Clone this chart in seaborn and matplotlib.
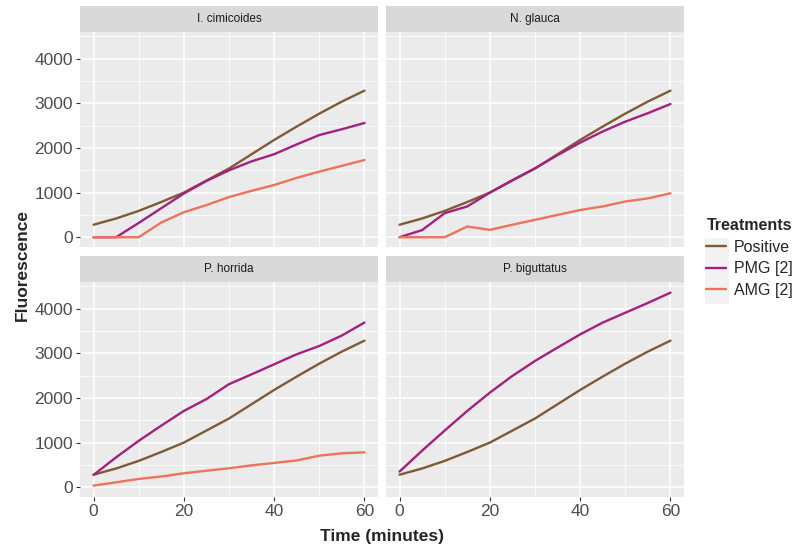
import matplotlib
matplotlib.use("Agg")
import matplotlib.pyplot as plt
import numpy as np
import pandas as pd
import seaborn as sns
from matplotlib.lines import Line2D
from matplotlib.patches import Rectangle
from matplotlib.ticker import MultipleLocator

# --- data (every 5 minutes) ---
time_min = [0, 5, 10, 15, 20, 25, 30, 35, 40, 45, 50, 55, 60]
species = ["I. cimicoides", "N. glauca", "P. horrida", "P. biguttatus"]
treatments = ["Positive", "PMG [2]", "AMG [2]"]

positive = [280, 420, 590, 790, 1000, 1270, 1540, 1860, 2180, 2480, 2770, 3040, 3285]

cimi_pmg = [0, 0, 320, 650, 980, 1260, 1500, 1700, 1860, 2080, 2290, 2420, 2560]
cimi_amg = [0, 0, 0, 330, 560, 720, 900, 1040, 1170, 1330, 1470, 1600, 1730]

glauca_pmg = [0, 160, 540, 690, 1000, 1280, 1545, 1840, 2120, 2370, 2590, 2780, 2985]
glauca_amg = [0, 0, 0, 240, 165, 280, 390, 500, 610, 690, 800, 870, 985]

horrida_pmg = [276, 670, 1040, 1380, 1710, 1975, 2310, 2530, 2755, 2980, 3165, 3400, 3690]
horrida_amg = [37, 110, 186, 240, 313, 370, 425, 490, 544, 600, 708, 760, 782]

bigut_pmg = [350, 820, 1270, 1710, 2120, 2495, 2830, 3130, 3425, 3690, 3910, 4130, 4360]

series = {
    "I. cimicoides": {"Positive": positive, "PMG [2]": cimi_pmg, "AMG [2]": cimi_amg},
    "N. glauca": {"Positive": positive, "PMG [2]": glauca_pmg, "AMG [2]": glauca_amg},
    "P. horrida": {"Positive": positive, "PMG [2]": horrida_pmg, "AMG [2]": horrida_amg},
    "P. biguttatus": {"Positive": positive, "PMG [2]": bigut_pmg},
}

rows = []
for sp, d in series.items():
    for tr, vals in d.items():
        for t, v in zip(time_min, vals):
            rows.append({"species": sp, "treatment": tr, "time": t, "value": v})
df = pd.DataFrame(rows)

palette = {"Positive": "#7f5a36", "PMG [2]": "#a3207f", "AMG [2]": "#ec735c"}

sns.set_theme(style="darkgrid")
plt.rcParams["font.family"] = ["Liberation Sans", "DejaVu Sans"]

W, H = 798, 551
fig = plt.figure(figsize=(W / 100, H / 100), dpi=100)


def px_axes(x0, y0, x1, y1):
    return fig.add_axes([x0 / W, 1 - y1 / H, (x1 - x0) / W, (y1 - y0) / H])


panel_box = [
    (80, 32, 378, 247),
    (386, 32, 684, 247),
    (80, 282, 378, 497),
    (386, 282, 684, 497),
]
strip_h = 26

for i, (sp, (x0, y0, x1, y1)) in enumerate(zip(species, panel_box)):
    ax = px_axes(x0, y0, x1, y1)
    sub = df[df["species"] == sp]
    sns.lineplot(data=sub, x="time", y="value", hue="treatment",
                 hue_order=treatments, palette=palette, lw=1.7,
                 legend=False, ax=ax)
    ax.set_facecolor("#EBEBEB")
    ax.set_xlim(-3, 63)
    ax.set_ylim(-219, 4599)
    ax.xaxis.set_major_locator(MultipleLocator(20))
    ax.xaxis.set_minor_locator(MultipleLocator(10))
    ax.yaxis.set_major_locator(MultipleLocator(1000))
    ax.yaxis.set_minor_locator(MultipleLocator(500))
    ax.grid(which="major", color="white", lw=1.1)
    ax.grid(which="minor", color="white", lw=0.55)
    for s in ax.spines.values():
        s.set_visible(False)
    ax.tick_params(which="major", length=3, width=0.8, color="#333333",
                   labelsize=12.5, labelcolor="#4D4D4D", pad=2,
                   bottom=True, left=True)
    ax.tick_params(which="minor", length=0)
    ax.set_xlabel("")
    ax.set_ylabel("")
    if i % 2 == 1:
        ax.tick_params(axis="y", left=False, labelleft=False)
    if i < 2:
        ax.tick_params(axis="x", bottom=False, labelbottom=False)

    sax = px_axes(x0, y0 - strip_h, x1, y0)
    sax.set_facecolor("#D9D9D9")
    sax.set_xticks([])
    sax.set_yticks([])
    sax.grid(False)
    for s in sax.spines.values():
        s.set_visible(False)
    sax.text(0.5, 0.5, sp, ha="center", va="center", fontsize=8.5,
             color="#1A1A1A", transform=sax.transAxes)

fig.text(382 / W, 1 - 537 / H, "Time (minutes)", ha="center", va="center",
         fontsize=12.5, fontweight="bold")
fig.text(22 / W, 1 - 265 / H, "Fluorescence", ha="center", va="center",
         rotation=90, fontsize=12.5, fontweight="bold")

# grey legend key background, as in ggplot
fig.patches.append(Rectangle((705 / W, 1 - 304 / H), 24 / W, 66 / H,
                             transform=fig.transFigure, facecolor="#F2F2F2",
                             edgecolor="none", zorder=0))

handles = [Line2D([0], [0], color=palette[t], lw=1.7) for t in treatments]
leg = fig.legend(handles, treatments, title="Treatments",
                 loc="upper left", bbox_to_anchor=(700 / W, 1 - 212 / H),
                 frameon=False, fontsize=11.5, title_fontsize=11.5,
                 handlelength=1.2, handletextpad=0.5, labelspacing=0.4,
                 borderaxespad=0)
leg.get_title().set_fontweight("bold")
leg._legend_box.align = "left"

fig.savefig("out.png", dpi=100, facecolor="white")
